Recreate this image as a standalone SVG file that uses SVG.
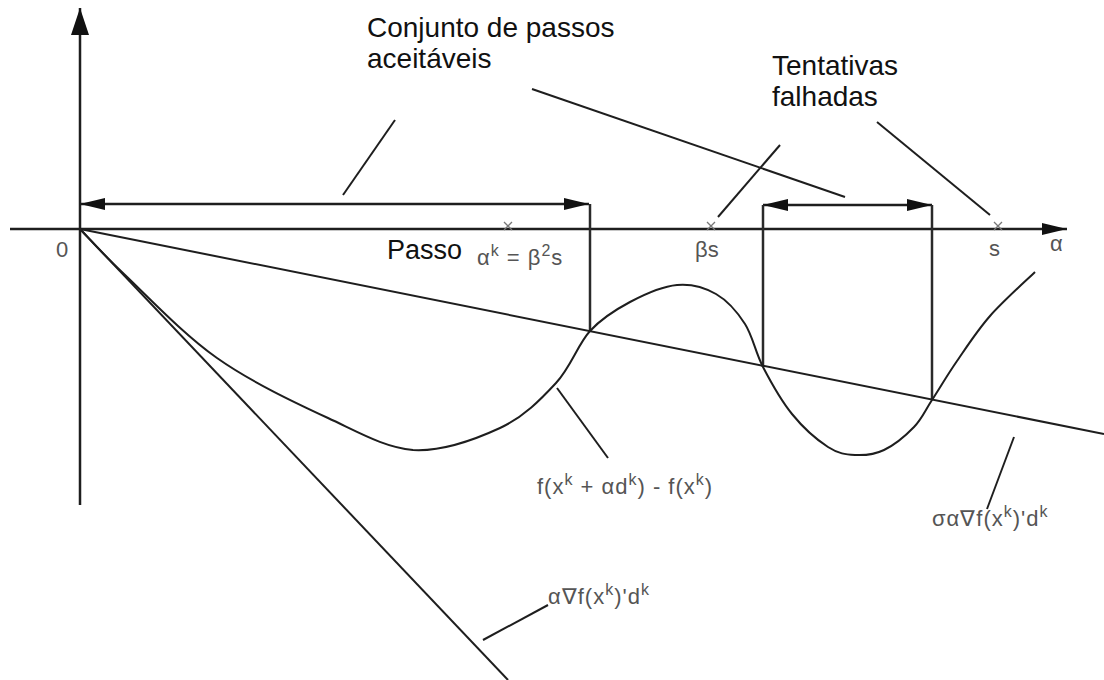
<svg xmlns="http://www.w3.org/2000/svg" width="1104" height="680" viewBox="0 0 1104 680">
  <style>
    .ax { stroke:#1e1e1e; stroke-width:2.5; fill:none; }
    .ln { stroke:#1e1e1e; stroke-width:2; fill:none; }
    .vl { stroke:#2a2a2a; stroke-width:2.5; fill:none; }
    .ld { stroke:#1e1e1e; stroke-width:2; fill:none; }
    .cx { stroke:#777; stroke-width:1.3; fill:none; }
    .lbl { font-family:"Liberation Sans", Arial, sans-serif; font-size:28px; fill:#111; }
    .m { font-family:"Liberation Sans", Arial, sans-serif; font-size:22px; fill:#555; }
    .sup { font-size:16px; }
  </style>
  <defs>
    <marker id="ah" viewBox="0 0 25 12" refX="25" refY="6" markerWidth="25" markerHeight="12" markerUnits="userSpaceOnUse" orient="auto-start-reverse">
      <path d="M0,0 L25,6 L0,12 z" fill="#111"/>
    </marker>
    <marker id="ahy" viewBox="0 0 18 27" refX="9" refY="0" markerWidth="18" markerHeight="27" markerUnits="userSpaceOnUse" orient="0">
      <path d="M9,0 L18,27 L0,27 z" fill="#111"/>
    </marker>
  </defs>

  <g id="axes">
    <line class="ax" x1="80" y1="505" x2="80" y2="8" marker-end="url(#ahy)"/>
    <line class="ax" x1="10" y1="229" x2="1067" y2="229" marker-end="url(#ah)"/>
  </g>

  <g id="connectors">
    <line class="ax" x1="80" y1="204" x2="589" y2="204" marker-start="url(#ah)" marker-end="url(#ah)"/>
    <line class="vl" x1="590" y1="204" x2="590" y2="331"/>
    <line class="ax" x1="763" y1="205" x2="932" y2="205" marker-start="url(#ah)" marker-end="url(#ah)"/>
    <line class="vl" x1="763" y1="205" x2="763" y2="367"/>
    <line class="vl" x1="932" y1="205" x2="932" y2="400"/>
    <line class="ld" x1="395" y1="120" x2="343" y2="195"/>
    <line class="ld" x1="532" y1="89" x2="845" y2="197"/>
    <line class="ld" x1="780" y1="145" x2="718" y2="217"/>
    <line class="ld" x1="877" y1="122" x2="990" y2="215"/>
    <line class="ld" x1="557" y1="388" x2="608" y2="458"/>
    <line class="ld" x1="1014" y1="437" x2="987" y2="509"/>
    <line class="ld" x1="483" y1="640" x2="548" y2="605"/>
  </g>

  <g id="curves">
    <line id="sigma-line" class="ln" x1="80" y1="229" x2="1104" y2="434"/>
    <line id="grad-line" class="ln" x1="80" y1="229" x2="508" y2="680"/>
    <path id="f-curve" class="ln" d="M80,229 C87.3,236.5 101.2,252.5 124,274 C146.8,295.5 183,334 217,358 C251,382 295.3,402.8 328,418 C360.7,433.2 384.3,447.3 413,450 C441.7,451.7 476.2,439 500,428 C523.8,417 541,399.2 556,383 C571,366.8 577.7,344.5 590,331 C602.3,317.5 615.5,309.7 630,302 C644.5,294.3 662.7,286.3 677,285 C691.3,283.7 704.7,287.5 716,294 C727.3,300.5 737.2,311.8 745,324 C752.8,336.2 755.2,352 763,367 C770.8,382 781.2,400.7 792,414 C802.8,427.3 817.5,440.2 828,447 C838.5,453.8 845.7,454.5 855,455 C864.3,455.5 874.2,454.7 884,450 C893.8,445.3 906,435.3 914,427 C922,418.7 924.8,411 932,400 C939.2,389 947.3,375 957,361 C966.7,347 977,330.8 990,316 C1003,301.2 1027.5,279.3 1035,272"/>
  </g>

  <g id="ticks">
    <path class="cx" d="M504,222 L512,230 M512,222 L504,230"/>
    <path class="cx" d="M707,222 L715,230 M715,222 L707,230"/>
    <path class="cx" d="M994,222 L1002,230 M1002,222 L994,230"/>
  </g>

  <g id="label-conjunto">
    <text class="lbl" x="367" y="37">Conjunto de passos</text>
    <text class="lbl" x="367" y="68">aceitáveis</text>
  </g>
  <g id="label-tentativas">
    <text class="lbl" x="772" y="75">Tentativas</text>
    <text class="lbl" x="772" y="106">falhadas</text>
  </g>
  <g id="label-passo">
    <text class="lbl" x="387" y="259" style="font-size:27px">Passo</text>
    <text class="m" x="477" y="265" letter-spacing="1">α<tspan class="sup" dy="-9">k</tspan><tspan dy="9"> = β</tspan><tspan class="sup" dy="-9">2</tspan><tspan dy="9">s</tspan></text>
  </g>
  <g id="axis-labels">
    <text class="m" x="56" y="257">0</text>
    <text class="m" x="695" y="257">βs</text>
    <text class="m" x="989" y="256">s</text>
    <text class="m" x="1050" y="251">α</text>
  </g>
  <g id="label-f">
    <text class="m" x="537" y="494" letter-spacing="1">f(x<tspan class="sup" dy="-9">k</tspan><tspan dy="9"> + αd</tspan><tspan class="sup" dy="-9">k</tspan><tspan dy="9">) - f(x</tspan><tspan class="sup" dy="-9">k</tspan><tspan dy="9">)</tspan></text>
  </g>
  <g id="label-sigma">
    <text class="m" x="932" y="526" letter-spacing="1">σα∇f(x<tspan class="sup" dy="-9">k</tspan><tspan dy="9">)'d</tspan><tspan class="sup" dy="-9">k</tspan></text>
  </g>
  <g id="label-grad">
    <text class="m" x="548" y="604" letter-spacing="1">α∇f(x<tspan class="sup" dy="-9">k</tspan><tspan dy="9">)'d</tspan><tspan class="sup" dy="-9">k</tspan></text>
  </g>
</svg>
